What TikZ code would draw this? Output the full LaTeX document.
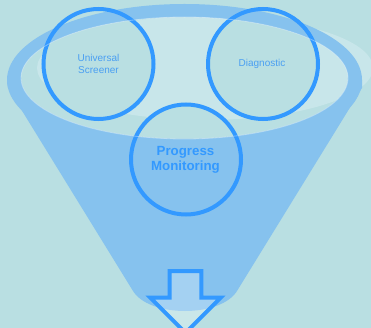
\documentclass[tikz,border=0pt]{standalone}
\usepackage{fontspec}
\setmainfont{Liberation Sans}
\definecolor{bgteal}{HTML}{B9DFE2}
\definecolor{funnelblue}{HTML}{86C2EE}
\definecolor{glow}{HTML}{C8E6EA}
\definecolor{ringblue}{HTML}{3399FF}
\definecolor{labelblue}{HTML}{4A9FF2}
\begin{document}
\begin{tikzpicture}[x=1pt,y=-1pt,
  ring/.style={draw=ringblue,line width=4pt},
  ringfill/.style={fill=bgteal},
  smalllabel/.style={text=labelblue,font=\fontsize{10}{12}\selectfont,align=center,inner sep=0pt},
  biglabel/.style={text=ringblue,font=\fontsize{13.3}{15}\selectfont\bfseries,align=center,inner sep=0pt},
  arrowshape/.style={draw=ringblue,line width=4pt,line join=miter,fill=white,fill opacity=0.25}]
\useasboundingbox (0,0) rectangle (371,328);
\clip (0,0) rectangle (371,328);
% backdrop
\fill[bgteal] (0,0) rectangle (371,328);
% soft highlight across the funnel mouth
\fill[glow] (205,68) ellipse[x radius=168, y radius=52];
% circle centres
\coordinate (cUS) at (98.5,64);
\coordinate (cDG) at (263,64);
\coordinate (cPM) at (186,159.5);
% circle interiors
\fill[ringfill] (cUS) circle[radius=55] (cDG) circle[radius=55] (cPM) circle[radius=55];
% funnel rim
\fill[funnelblue,even odd rule]
  (184.5,80) ellipse[x radius=177.5, y radius=76]
  (184.5,78) ellipse[x radius=163.5, y radius=61];
% funnel cone
\fill[funnelblue] (21,78) -- (7,80) -- (8,88) -- (132.4,290)
  .. controls (148,318) and (222,318) .. (237.6,290)
  -- (362,88) -- (362,80) -- (348,78)
  arc[start angle=0, end angle=180, x radius=163.5, y radius=61] -- cycle;
% circles
\draw[ring] (cUS) circle[radius=55];
\draw[ring] (cDG) circle[radius=55];
\draw[ring] (cPM) circle[radius=55];
% faint edge of the mouth
\draw[white,opacity=0.35,line width=0.8pt] (184.5,78) ellipse[x radius=163.5, y radius=61];
% labels
\node[smalllabel] (us) at (98.5,64) {Universal\\Screener};
\node[smalllabel] (dg) at (262,64) {Diagnostic};
\node[biglabel] (pm) at (185.5,160) {Progress\\Monitoring};
% outlet arrow
\draw[arrowshape] (169.7,271) -- (201.3,271) -- (201.3,297.7) -- (220.7,297.7)
  -- (185.5,332.9) -- (150.3,297.7) -- (169.7,297.7) -- cycle;
\end{tikzpicture}
\end{document}
